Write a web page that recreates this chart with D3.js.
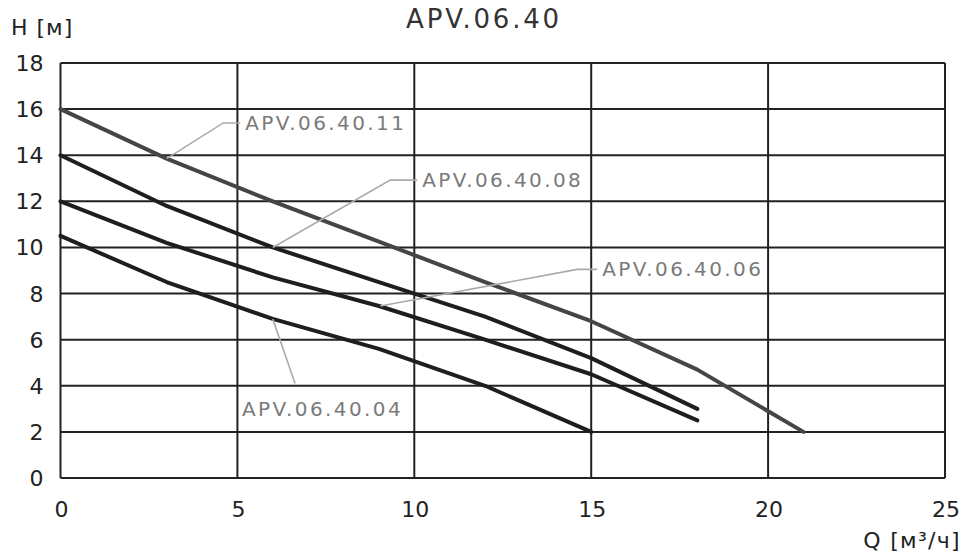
<!DOCTYPE html>
<html>
<head>
<meta charset="utf-8">
<script src="https://cdn.jsdelivr.net/npm/d3@7"></script>
<style>
  body { margin: 0; background: #fff; }
  svg { display: block; font-family: "DejaVu Sans", Verdana, sans-serif; }
</style>
</head>
<body>
<div id="chart"></div>
<script>
// Данные кривых H(Q)
const seriesNames = ['APV.06.40.11', 'APV.06.40.08', 'APV.06.40.06', 'APV.06.40.04'];
const q11 = [0, 3, 6, 9, 12, 15, 18, 21];
const h11 = [16, 13.85, 12.0, 10.25, 8.5, 6.8, 4.7, 2.0];
const q08 = [0, 3, 6, 9, 12, 15, 18];
const h08 = [14, 11.8, 10.0, 8.5, 7.0, 5.2, 3.0];
const q06 = [0, 3, 6, 9, 12, 15, 18];
const h06 = [12, 10.2, 8.7, 7.46, 6.0, 4.5, 2.5];
const q04 = [0, 3, 6, 9, 12, 15];
const h04 = [10.5, 8.5, 6.9, 5.6, 4.0, 2.0];

const xTicks = [0, 5, 10, 15, 20, 25];
const yTicks = [0, 2, 4, 6, 8, 10, 12, 14, 16, 18];

// подписи: точка на кривой -> излом -> конец выноски (в единицах данных)
const labelAnchors = [[3, 13.85], [6, 10.0], [9.04, 7.46], [6, 6.9]];
const labelElbows = [[4.6, 15.4], [9.32, 12.92], [14.6, 9.05], null];
const labelEnds = [[5.08, 15.4], [10.08, 12.92], [15.17, 9.05], [6.63, 4.1]];

const W = 965, H = 559;
const margin = { top: 63, right: 20, bottom: 81, left: 60.5 };
const iw = W - margin.left - margin.right;
const ih = H - margin.top - margin.bottom;

const svg = d3.select('#chart').append('svg')
    .attr('width', W).attr('height', H);

const g = svg.append('g')
    .attr('transform', `translate(${margin.left},${margin.top})`);

const x = d3.scaleLinear().domain([0, 25]).range([0, iw]);
const y = d3.scaleLinear().domain([0, 18]).range([ih, 0]);

// сетка
g.selectAll('.hgrid').data(yTicks).enter().append('line')
    .attr('x1', 0).attr('x2', iw)
    .attr('y1', d => y(d)).attr('y2', d => y(d))
    .attr('stroke', '#222').attr('stroke-width', 2);

g.selectAll('.vgrid').data(xTicks).enter().append('line')
    .attr('y1', 0).attr('y2', ih)
    .attr('x1', d => x(d)).attr('x2', d => x(d))
    .attr('stroke', '#222').attr('stroke-width', 2);

// подписи осей
g.selectAll('.ylab').data(yTicks).enter().append('text')
    .attr('x', -17).attr('y', d => y(d) + 8)
    .attr('text-anchor', 'end')
    .style('font-size', '22px').attr('fill', '#222')
    .text(d => d);

g.selectAll('.xlab').data(xTicks).enter().append('text')
    .attr('x', d => x(d) + 1).attr('y', ih + 39)
    .attr('text-anchor', 'middle')
    .style('font-size', '22px').attr('fill', '#222')
    .text(d => d);

svg.append('text')
    .attr('x', 11).attr('y', 35)
    .style('font-size', '22px').attr('fill', '#222')
    .attr('letter-spacing', 1)
    .text('H [м]');

svg.append('text')
    .attr('x', 961).attr('y', 548)
    .attr('text-anchor', 'end')
    .style('font-size', '22px').attr('fill', '#222')
    .attr('letter-spacing', 1.3)
    .text('Q [м³/ч]');

svg.append('text')
    .attr('x', 484).attr('y', 28)
    .attr('text-anchor', 'middle')
    .style('font-size', '26px').attr('fill', '#333')
    .attr('letter-spacing', 2.8)
    .text('APV.06.40');

// кривые
const curves = [
    { q: q11, h: h11, color: '#454545' },
    { q: q08, h: h08, color: '#1e1e1e' },
    { q: q06, h: h06, color: '#1e1e1e' },
    { q: q04, h: h04, color: '#1e1e1e' }
];

const line = d3.line()
    .x(d => x(d[0]))
    .y(d => y(d[1]));

curves.forEach(c => {
    g.append('path')
        .datum(c.q.map((v, i) => [v, c.h[i]]))
        .attr('d', line)
        .attr('fill', 'none')
        .attr('stroke', c.color)
        .attr('stroke-width', 4)
        .attr('stroke-linecap', 'round')
        .attr('stroke-linejoin', 'round');
});

// выноски с подписями
seriesNames.forEach((name, i) => {
    const pts = [labelAnchors[i]];
    if (labelElbows[i]) pts.push(labelElbows[i]);
    pts.push(labelEnds[i]);
    g.append('path')
        .datum(pts)
        .attr('d', line)
        .attr('fill', 'none')
        .attr('stroke', '#aaa')
        .attr('stroke-width', 1.6);

    const end = labelEnds[i];
    const t = g.append('text')
        .style('font-size', '20px')
        .attr('fill', '#7a7a7a')
        .attr('letter-spacing', 2.4)
        .text(name);
    if (labelElbows[i]) {
        t.attr('x', x(end[0]) + 5).attr('y', y(end[1]) + 7);
    } else {
        // подпись под выноской (APV.06.40.04)
        t.attr('x', x(5.13)).attr('y', y(end[1]) + 33);
    }
});
</script>
</body>
</html>
